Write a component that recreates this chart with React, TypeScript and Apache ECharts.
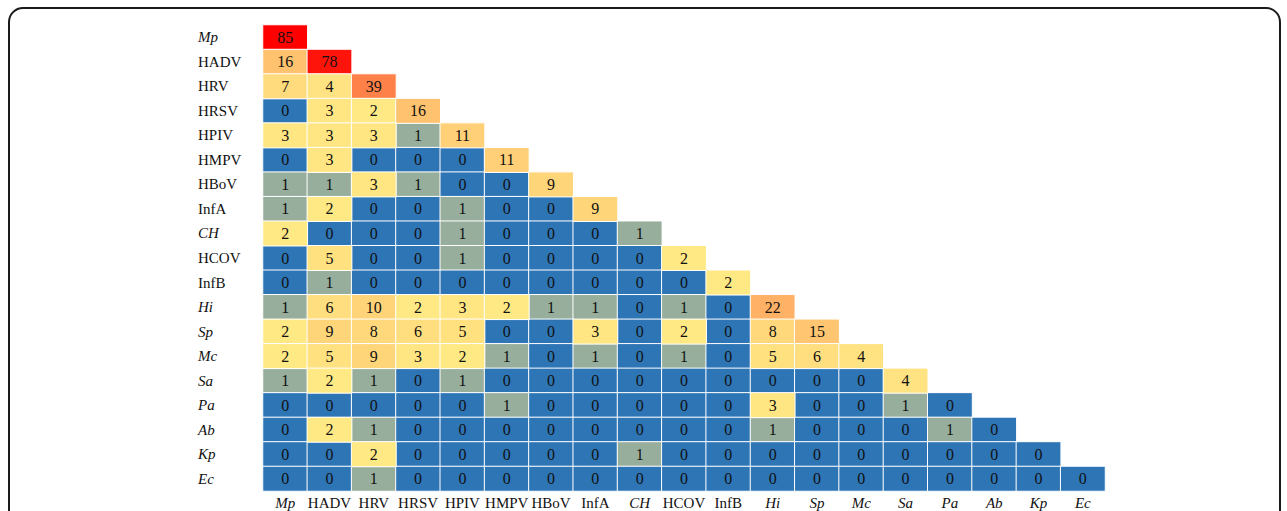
import React, { useEffect, useRef } from "react";
import * as echarts from "echarts";

const categories = [
  "Mp", "HADV", "HRV", "HRSV", "HPIV", "HMPV", "HBoV", "InfA", "CH", "HCOV",
  "InfB", "Hi", "Sp", "Mc", "Sa", "Pa", "Ab", "Kp", "Ec",
];
const italicNames = ["Mp", "CH", "Hi", "Sp", "Mc", "Sa", "Pa", "Ab", "Kp", "Ec"];

// lower-triangular matrix rows (row i has i+1 values)
const rowMp = [85];
const rowHADV = [16, 78];
const rowHRV = [7, 4, 39];
const rowHRSV = [0, 3, 2, 16];
const rowHPIV = [3, 3, 3, 1, 11];
const rowHMPV = [0, 3, 0, 0, 0, 11];
const rowHBoV = [1, 1, 3, 1, 0, 0, 9];
const rowInfA = [1, 2, 0, 0, 1, 0, 0, 9];
const rowCH = [2, 0, 0, 0, 1, 0, 0, 0, 1];
const rowHCOV = [0, 5, 0, 0, 1, 0, 0, 0, 0, 2];
const rowInfB = [0, 1, 0, 0, 0, 0, 0, 0, 0, 0, 2];
const rowHi = [1, 6, 10, 2, 3, 2, 1, 1, 0, 1, 0, 22];
const rowSp = [2, 9, 8, 6, 5, 0, 0, 3, 0, 2, 0, 8, 15];
const rowMc = [2, 5, 9, 3, 2, 1, 0, 1, 0, 1, 0, 5, 6, 4];
const rowSa = [1, 2, 1, 0, 1, 0, 0, 0, 0, 0, 0, 0, 0, 0, 4];
const rowPa = [0, 0, 0, 0, 0, 1, 0, 0, 0, 0, 0, 3, 0, 0, 1, 0];
const rowAb = [0, 2, 1, 0, 0, 0, 0, 0, 0, 0, 0, 1, 0, 0, 0, 1, 0];
const rowKp = [0, 0, 2, 0, 0, 0, 0, 0, 1, 0, 0, 0, 0, 0, 0, 0, 0, 0];
const rowEc = [0, 0, 1, 0, 0, 0, 0, 0, 0, 0, 0, 0, 0, 0, 0, 0, 0, 0, 0];

const rows = [
  rowMp, rowHADV, rowHRV, rowHRSV, rowHPIV, rowHMPV, rowHBoV, rowInfA, rowCH, rowHCOV,
  rowInfB, rowHi, rowSp, rowMc, rowSa, rowPa, rowAb, rowKp, rowEc,
];

const FONT = "'Liberation Serif', 'Times New Roman', serif";

export default function App() {
  const ref = useRef<HTMLDivElement>(null);

  useEffect(() => {
    document.body.style.margin = "0";
    if (!ref.current) return;
    const chart = echarts.init(ref.current, null, { renderer: "svg" });

    const all: [number, number, number][] = [];
    rows.forEach((r, yi) => r.forEach((v, xi) => all.push([xi, yi, v])));
    const lowData = all.filter((d) => d[2] < 2);
    const highData = all.filter((d) => d[2] >= 2);

    const fmt = (name: string) =>
      italicNames.includes(name) ? `{i|${name}}` : `{n|${name}}`;
    const rich = {
      i: { fontStyle: "italic", fontFamily: FONT, fontSize: 15, color: "#111" },
      n: { fontFamily: FONT, fontSize: 15, color: "#111" },
    };

    const seriesCommon = {
      type: "heatmap",
      label: {
        show: true,
        formatter: (p: any) => String(p.value[2]),
        fontFamily: FONT,
        fontSize: 16,
        color: "#111",
      },
      itemStyle: { borderColor: "#ffffff", borderWidth: 1 },
      emphasis: { disabled: true },
    };

    chart.setOption({
      animation: false,
      grid: { left: 263, top: 25, width: 842, height: 466, outerBoundsMode: "none" },
      xAxis: {
        type: "category",
        data: categories,
        axisLine: { show: false },
        axisTick: { show: false },
        splitLine: { show: false },
        axisLabel: { formatter: fmt, rich, margin: 4, interval: 0 },
      },
      yAxis: {
        type: "category",
        data: categories,
        inverse: true,
        axisLine: { show: false },
        axisTick: { show: false },
        splitLine: { show: false },
        axisLabel: { formatter: fmt, rich, margin: 65, align: "left", interval: 0 },
      },
      visualMap: [
        {
          type: "piecewise",
          show: false,
          seriesIndex: 0,
          dimension: 2,
          pieces: [
            { value: 0, color: "#2e75b6" },
            { value: 1, color: "#97ae9c" },
          ],
        },
        {
          type: "continuous",
          show: false,
          seriesIndex: 1,
          dimension: 2,
          min: 2,
          max: 85,
          inRange: { color: ["#ffe985", "#ff0000"] },
        },
      ],
      graphic: [
        {
          type: "rect",
          shape: { x: 9, y: 8, width: 1271, height: 540, r: 14 },
          style: { fill: "none", stroke: "#1a1a1a", lineWidth: 2 },
          silent: true,
        },
      ],
      series: [
        { ...seriesCommon, data: lowData },
        { ...seriesCommon, data: highData },
      ],
    });

    return () => chart.dispose();
  }, []);

  return <div ref={ref} style={{ width: 1287, height: 511 }} />;
}
